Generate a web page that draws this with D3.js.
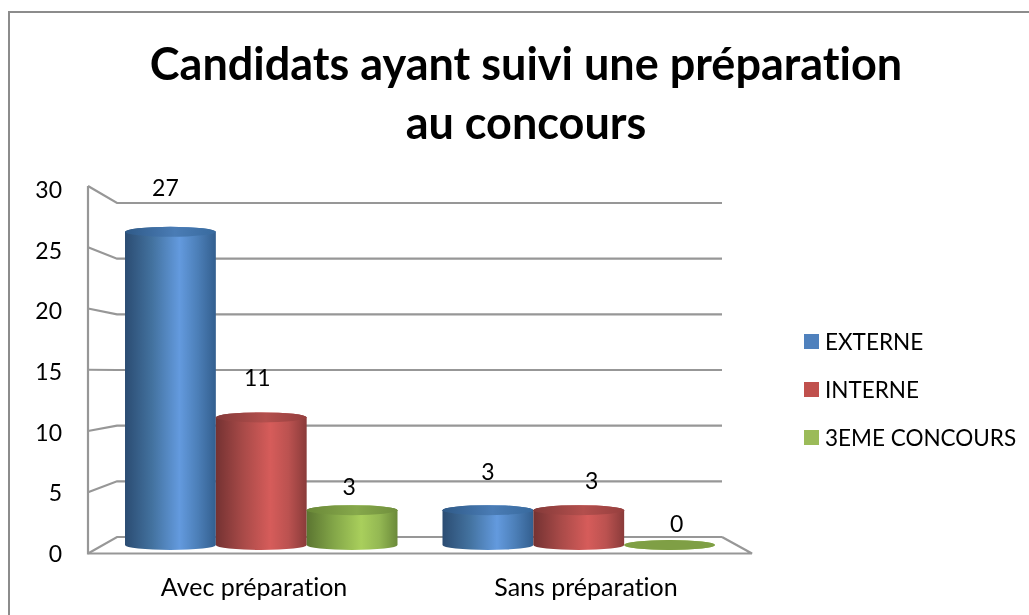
<!DOCTYPE html>
<html><head><meta charset="utf-8">
<script src="https://cdn.jsdelivr.net/npm/d3@7/dist/d3.min.js"></script>
<style>html,body{margin:0;padding:0;background:#fff;overflow:hidden}svg{display:block;filter:blur(.35px)}text{font-family:Lato,"Open Sans",sans-serif;fill:#000;font-variant-ligatures:none}</style>
</head><body><svg id="c" width="1029" height="615"></svg>
<script>
const categories = ["Avec préparation", "Sans préparation"];
const seriesNames = ["EXTERNE", "INTERNE", "3EME CONCOURS"];
const externe = [27, 3];
const interne = [11, 3];
const troisieme = [3, 0];
const yTicks = [0, 5, 10, 15, 20, 25, 30];
const titleLines = ["Candidats ayant suivi une préparation", "au concours"];

const seriesValues = [externe, interne, troisieme];
const palette = [
  {id:"g0", stops:["#2b4c72","#43729f","#639ade","#4c7fb8","#335f8f"], top:["#2f5a88","#4a7cb5","#386a9e"], key:"#4f81bd"},
  {id:"g1", stops:["#743232","#a84a48","#d65c5a","#bb5250","#8a3b3a"], top:["#853a39","#b34f4d","#963f3e"], key:"#c0504d"},
  {id:"g2", stops:["#5b7531","#83a648","#a9cf5c","#94b853","#6b8a3a"], top:["#6a8838","#86a84b","#708f3d"], key:"#9bbb59"}
];
const svg = d3.select("#c");
const defs = svg.append("defs");
palette.forEach(p => {
  const g = defs.append("linearGradient").attr("id", p.id);
  p.stops.forEach((c, i) => g.append("stop").attr("offset", [0, .3, .6, .8, 1][i]).attr("stop-color", c));
  const t = defs.append("linearGradient").attr("id", p.id + "t");
  p.top.forEach((c, i) => t.append("stop").attr("offset", [0, .55, 1][i]).attr("stop-color", c));
});

const lineCol = "#979797";
// frame
svg.append("rect").attr("x", 9).attr("y", 12).attr("width", 1040).attr("height", 640)
  .attr("fill", "none").attr("stroke", "#8c8c8c").attr("stroke-width", 2);

// title
svg.append("g").selectAll("text").data(titleLines).join("text")
  .attr("x", 526).attr("y", (d, i) => 80 + i * 59).attr("text-anchor", "middle")
  .attr("font-size", 45).attr("font-weight", 700).text(d => d);

// planes
const wallX = 88, backX = 117, floorR = 752, backR = 722;
const yFront = d3.scaleLinear().domain([0, 30]).range([553.5, 186]);
const yBack = d3.scaleLinear().domain([0, 30]).range([537, 203]);
const yBar = d3.scaleLinear().domain([0, 30]).range([545, 197]);
const yLabel = d3.scaleLinear().domain([0, 30]).range([554, 190]);

const grid = svg.append("g").attr("fill", "none").attr("stroke", lineCol).attr("stroke-width", 2.2);
grid.append("path").attr("d", `M${wallX},${yFront(30)}V${yFront(0)}H${floorR}L${backR},${yBack(0)}`);
grid.selectAll("path.g").data(yTicks).join("path").attr("class", "g")
  .attr("d", t => `M${wallX},${yFront(t)}L${backX},${yBack(t)}H${backR}`);

// bars
const x0 = d3.scaleBand().domain(categories).range([102.5, 737.5]).paddingInner(.1417).paddingOuter(.0709);
const x1 = d3.scaleBand().domain(seriesNames).range([0, x0.bandwidth()]);
const ry = 5;
const bars = [];
seriesNames.forEach((s, si) => categories.forEach((c, ci) => bars.push({s, si, c, ci, v: seriesValues[si][ci]})));
const gb = svg.append("g").selectAll("g").data(bars).join("g")
  .attr("transform", d => `translate(${x0(d.c) + x1(d.s)},0)`);
const w = x1.bandwidth(), rx = w / 2;
gb.append("path")
  .attr("fill", d => d.v === 0 ? palette[d.si].key : `url(#${palette[d.si].id})`)
  .attr("d", d => {
    const t = yBar(d.v), b = yBar(0);
    return `M0,${t}V${b}A${rx},${ry} 0 0 0 ${w},${b}V${t}A${rx},${ry} 0 0 0 0,${t}Z`;
  });
gb.append("ellipse").attr("cx", rx).attr("cy", d => yBar(d.v)).attr("rx", rx).attr("ry", ry)
  .attr("fill", d => d.v === 0 ? "#7f9f45" : `url(#${palette[d.si].id}t)`);

// data labels: hand-placed in the original chart, so each has its own nudge
const nudgeX = [[-5, 0], [-4, 13], [-3, 7]];
const nudgeY = [[-36, -30], [-31, -21], [-15, -13]];
svg.append("g").selectAll("text").data(bars).join("text")
  .attr("text-anchor", "middle").attr("font-size", 23)
  .attr("x", d => x0(d.c) + x1(d.s) + rx + nudgeX[d.si][d.ci])
  .attr("y", d => yBar(d.v) + nudgeY[d.si][d.ci])
  .text(d => d.v);

// axes
const axisY = d3.axisLeft(yLabel).tickValues(yTicks).tickSize(0).tickPadding(0);
const ay = svg.append("g").attr("transform", "translate(62,0)").call(axisY);
ay.select(".domain").remove();
ay.attr("font-family", null);
ay.selectAll("text").attr("font-size", 23).attr("fill", "#000");

const xAxisScale = d3.scaleBand().domain(categories).range([wallX, floorR]);
const axisX = d3.axisBottom(xAxisScale).tickSize(0).tickPadding(0);
const ax = svg.append("g").attr("transform", "translate(0,578)").call(axisX);
ax.select(".domain").remove();
ax.attr("font-family", null);
ax.selectAll("text").attr("font-size", 25).attr("fill", "#000");

// legend
const lg = svg.append("g").selectAll("g").data(seriesNames).join("g")
  .attr("transform", (d, i) => `translate(804,${334 + i * 48})`);
lg.append("rect").attr("width", 15).attr("height", 15).attr("fill", (d, i) => palette[i].key);
lg.append("text").attr("x", 21).attr("y", 15.5).attr("font-size", 22.5).text(d => d);
</script></body></html>
